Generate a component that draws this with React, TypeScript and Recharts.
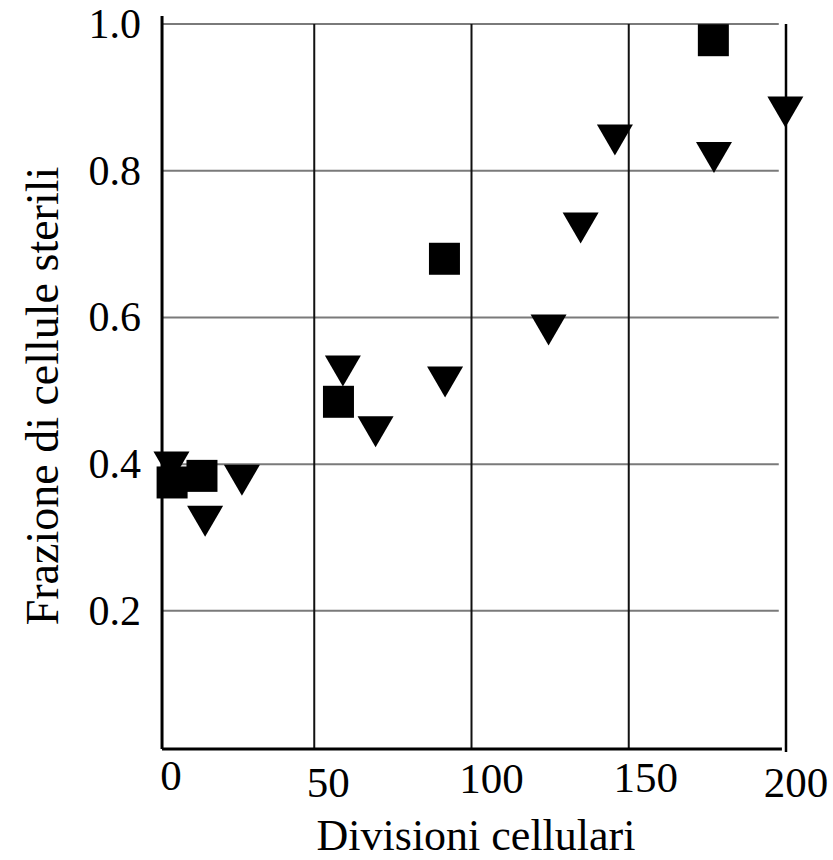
import React from "react";
import { ReferenceLine, Scatter, ScatterChart, XAxis, YAxis } from "recharts";

// Squares
const squareX = [4.8, 14.3, 57.7, 91.4, 176.9];
const squareY = [0.375, 0.384, 0.485, 0.68, 0.978];

// Downward triangles
const triangleX = [4.6, 15.3, 27.0, 59.1, 69.5, 91.6, 124.5, 134.7, 145.6, 177.1, 199.8];
const triangleY = [0.396, 0.322, 0.378, 0.527, 0.444, 0.512, 0.583, 0.722, 0.842, 0.818, 0.88];

const xTicks = [0, 50, 100, 150, 200];
const yTicks = [0.2, 0.4, 0.6, 0.8, 1.0];
const xGrid = [50, 100, 150];

const Y_MIN = 0.0116;
const Y_MAX = 1.011;
const AXIS_X = 1.6; // where the vertical axis line sits
const GRID_END = 197.7;

const FONT = '"Liberation Serif", "Times New Roman", serif';

const squares = squareX.map((x, i) => ({ x, y: squareY[i] }));
const triangles = triangleX.map((x, i) => ({ x, y: triangleY[i] }));

const Square = (props: any) => {
  const { cx, cy } = props;
  return <rect x={cx - 15.5} y={cy - 16} width={31} height={32} fill="#000" />;
};

const DownTriangle = (props: any) => {
  const { cx, cy } = props;
  return (
    <polygon
      points={`${cx - 18},${cy - 15.5} ${cx + 18},${cy - 15.5} ${cx},${cy + 15.5}`}
      fill="#000"
    />
  );
};

// small per-label nudges to match the original typesetting
const xNudge: Record<number, [number, number]> = {
  0: [14, 790],
  50: [14, 797],
  100: [20, 793],
  150: [17, 792],
  200: [10, 797],
};

const XTick = (props: any) => {
  const { x, payload } = props;
  const [dx, base] = xNudge[payload.value] || [14, 794];
  return (
    <text x={x + dx} y={base} textAnchor="middle" fontFamily={FONT} fontSize={43} fill="#000">
      {payload.value}
    </text>
  );
};

const YTick = (props: any) => {
  const { y, payload } = props;
  return (
    <text x={141} y={y + 14} textAnchor="end" fontFamily={FONT} fontSize={42} fill="#000">
      {Number(payload.value).toFixed(1)}
    </text>
  );
};

export default function App() {
  return (
    <div style={{ position: "absolute", left: 0, top: 0, width: 833, height: 860, background: "#fff" }}>
      <ScatterChart width={833} height={860} margin={{ top: 16, right: 47, left: 0, bottom: 0 }}>
        <XAxis
          type="number"
          dataKey="x"
          domain={[0, 200]}
          ticks={xTicks}
          interval={0}
          height={111}
          axisLine={false}
          tickLine={false}
          tick={<XTick />}
        />
        <YAxis
          type="number"
          dataKey="y"
          domain={[Y_MIN, Y_MAX]}
          ticks={yTicks}
          interval={0}
          width={157}
          axisLine={false}
          tickLine={false}
          tick={<YTick />}
        />
        {yTicks.map((v) => (
          <ReferenceLine
            key={`h-${v}`}
            segment={[{ x: AXIS_X, y: v }, { x: GRID_END, y: v }]}
            stroke="#7a7a7a"
            strokeWidth={2}
            ifOverflow="visible"
          />
        ))}
        {xGrid.map((v) => (
          <ReferenceLine
            key={`v-${v}`}
            segment={[{ x: v, y: Y_MIN }, { x: v, y: 1.0 }]}
            stroke="#111"
            strokeWidth={2}
            ifOverflow="visible"
          />
        ))}
        <ReferenceLine
          segment={[{ x: 200, y: Y_MIN - 0.004 }, { x: 200, y: 1.0 }]}
          stroke="#000"
          strokeWidth={2.5}
          ifOverflow="visible"
        />
        <ReferenceLine
          segment={[{ x: AXIS_X, y: Y_MIN }, { x: AXIS_X, y: Y_MAX }]}
          stroke="#000"
          strokeWidth={3}
          ifOverflow="visible"
        />
        <ReferenceLine
          segment={[{ x: AXIS_X, y: Y_MIN }, { x: 198.7, y: Y_MIN }]}
          stroke="#000"
          strokeWidth={3}
          ifOverflow="visible"
        />
        <Scatter data={triangles} shape={<DownTriangle />} isAnimationActive={false} />
        <Scatter data={squares} shape={<Square />} isAnimationActive={false} />
      </ScatterChart>
      <svg
        width={833}
        height={860}
        style={{ position: "absolute", left: 0, top: 0, pointerEvents: "none" }}
      >
        <text x={476} y={850} textAnchor="middle" fontFamily={FONT} fontSize={44} fill="#000">
          Divisioni cellulari
        </text>
        <text
          x={58}
          y={396}
          transform="rotate(-90 58 396)"
          textAnchor="middle"
          fontFamily={FONT}
          fontSize={46}
          fill="#000"
        >
          Frazione di cellule sterili
        </text>
      </svg>
    </div>
  );
}
